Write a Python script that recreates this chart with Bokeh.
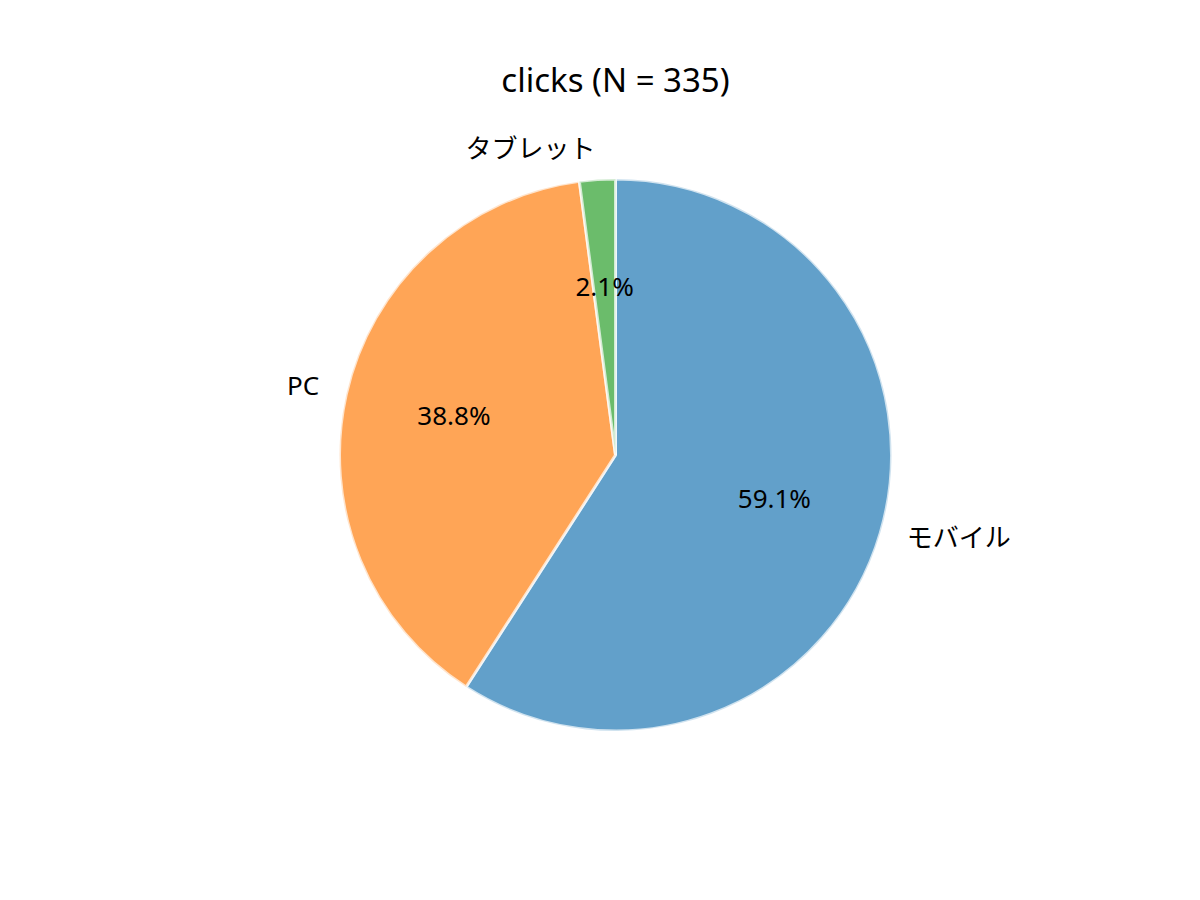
import numpy as np
from bokeh.plotting import figure
from bokeh.models import Range1d, ColumnDataSource
from bokeh.core.properties import value
from bokeh.embed import file_html
from bokeh.resources import INLINE

# ---- data ----
categories = ["モバイル", "PC", "タブレット"]
counts = [198, 130, 7]
colors = ["#1f77b4", "#ff7f0e", "#2ca02c"]
title_text = "clicks (N = 335)"

# ---- layout (pixels) ----
W, H = 1184, 884
R_PX = 276.0           # pie radius in pixels
CX, CY = 615.0, 454.5  # pie centre in canvas pixels (from top-left)

FONT = "Noto Sans, Noto Sans CJK JP"

p = figure(width=W, height=H, output_backend="svg", toolbar_location=None,
           x_range=Range1d(-CX / R_PX, (W - CX) / R_PX),
           y_range=Range1d(-(H - CY) / R_PX, CY / R_PX),
           min_border=0, min_border_left=0, min_border_right=0,
           min_border_top=0, min_border_bottom=0)
p.axis.visible = False
p.grid.visible = False
p.outline_line_color = None
p.background_fill_color = "white"
p.border_fill_color = "white"

total = float(sum(counts))
fracs = np.array(counts) / total
# clockwise from 90 degrees
cum = np.concatenate([[0.0], np.cumsum(fracs)])
start = np.deg2rad(90.0 - 360.0 * cum[:-1])
end = np.deg2rad(90.0 - 360.0 * cum[1:])
mid = (start + end) / 2.0

src = ColumnDataSource(dict(start=start, end=end, color=colors, cat=categories))
p.wedge(x=0, y=0, radius=1.0, start_angle="start", end_angle="end",
        direction="clock", fill_color="color", fill_alpha=0.7,
        line_color="white", line_alpha=0.7, line_width=3, source=src)

# category labels at 1.1 radius
lx = 1.1 * np.cos(mid)
ly = 1.1 * np.sin(mid)
align = ["left" if x > 0 else "right" for x in lx]
lab_src = ColumnDataSource(dict(x=lx, y=ly, t=categories, a=align))
p.text(x="x", y="y", text="t", text_align="a", text_baseline="middle",
       y_offset=-4, text_font=value(FONT), text_font_size="26px",
       text_color="black", source=lab_src)

# percentage labels at 0.6 radius
pct = ["%.1f%%" % (f * 100) for f in fracs]
pct_src = ColumnDataSource(dict(x=0.6 * np.cos(mid), y=0.6 * np.sin(mid), t=pct))
p.text(x="x", y="y", text="t", text_align="center", text_baseline="middle",
       y_offset=-4, text_font=value(FONT), text_font_size="26px",
       text_color="black", source=pct_src)

# title centred ~ 83px from the top
title_y = (CY - 83.0) / R_PX
p.text(x=[0.0], y=[title_y], text=[title_text], text_align="center",
       text_baseline="middle", y_offset=-4, text_font=value(FONT),
       text_font_size="33px", text_color="black")

open("out.html", "w").write(file_html(p, INLINE))
